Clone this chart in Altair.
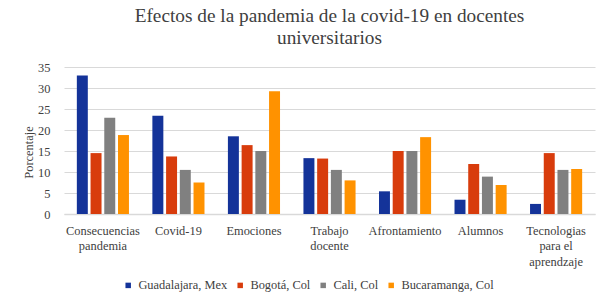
import altair as alt
import pandas as pd

categories = ["Consecuencias|pandemia", "Covid-19", "Emociones", "Trabajo|docente",
              "Afrontamiento", "Alumnos", "Tecnologias|para el|aprendzaje"]
series = ["Guadalajara, Mex", "Bogotá, Col", "Cali, Col", "Bucaramanga, Col"]
guadalajara = [33.0, 23.4, 18.5, 13.3, 5.4, 3.4, 2.4]
bogota = [14.5, 13.7, 16.4, 13.2, 15.0, 11.9, 14.5]
cali = [22.9, 10.5, 15.0, 10.5, 15.0, 8.9, 10.5]
bucaramanga = [18.8, 7.5, 29.2, 8.0, 18.3, 6.9, 10.7]
colors = ["#143399", "#D83C0C", "#808080", "#FF9200"]

rows = []
for s, vals in zip(series, [guadalajara, bogota, cali, bucaramanga]):
    for c, v in zip(categories, vals):
        rows.append({"categoria": c, "ciudad": s, "valor": v})
df = pd.DataFrame(rows)

font = "Liberation Serif"
txt = "#404040"
fs = 12.4

chart = alt.Chart(df).mark_bar().encode(
    x=alt.X("categoria:N", sort=categories, title=None,
            scale=alt.Scale(paddingInner=0.31, paddingOuter=0.17),
            axis=alt.Axis(labelExpr="split(datum.label, '|')", labelAngle=0,
                          labelFontSize=fs, labelColor=txt,
                          labelLineHeight=15.5, labelPadding=10, ticks=False,
                          domainColor="#d9d9d9", domainWidth=1.5, labelBaseline="top")),
    xOffset=alt.XOffset("ciudad:N", sort=series, scale=alt.Scale(paddingInner=0.2)),
    y=alt.Y("valor:Q", title="Porcentaje",
            scale=alt.Scale(domain=[0, 35], nice=False),
            axis=alt.Axis(values=[0, 5, 10, 15, 20, 25, 30, 35], domain=False, ticks=False,
                          labelFontSize=fs, labelColor=txt, labelPadding=14,
                          titleFontSize=fs, titleColor=txt,
                          titleFontWeight="normal", titleX=-36, titleY=85,
                          titleAlign="center", titleBaseline="middle",
                          gridColor="#d9d9d9", gridWidth=1)),
    color=alt.Color("ciudad:N", sort=series,
                    scale=alt.Scale(domain=series, range=colors),
                    legend=alt.Legend(title=None, orient="none", direction="horizontal",
                                      legendX=58, legendY=212, padding=0,
                                      symbolType="square", symbolSize=30,
                                      symbolStrokeWidth=0,
                                      labelFontSize=fs, labelColor=txt,
                                      columnPadding=6, labelOffset=4)),
).properties(
    width=531, height=147,
    title=alt.Title(["Efectos de la pandemia de la covid-19 en docentes", "universitarios"],
                    fontSize=19.3, fontWeight="normal", color=txt,
                    anchor="middle", lineHeight=22, offset=13),
    autosize=alt.AutoSizeParams(type="none"),
    padding={"left": 64, "top": 67, "right": 8, "bottom": 90},
).configure(font=font).configure_axis(labelFont=font, titleFont=font).configure_legend(
    labelFont=font).configure_title(font=font).configure_view(stroke=None)

chart.save("out.html", embed_options={"renderer": "svg", "actions": False})
